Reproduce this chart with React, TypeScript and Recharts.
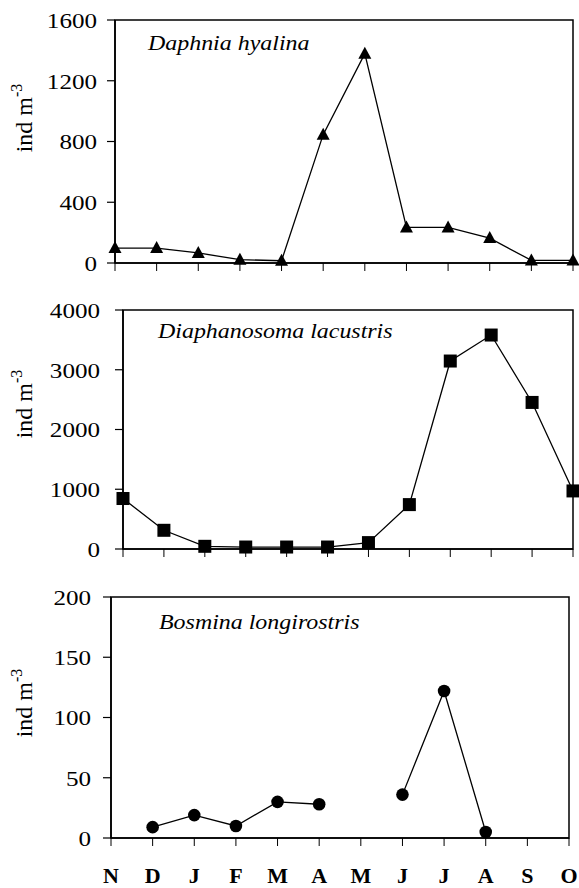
import React from 'react';
import { LineChart, Line, XAxis, YAxis, ReferenceArea } from 'recharts';

// months Nov -> Oct
const months = ['N', 'D', 'J', 'F', 'M', 'A', 'M', 'J', 'J', 'A', 'S', 'O'];

const daphnia = [98, 98, 66, 22, 15, 845, 1378, 234, 234, 164, 17, 17];
const diaphanosoma = [845, 313, 45, 33, 33, 33, 107, 743, 3146, 3581, 2453, 972];
const bosmina = [null, 9, 19, 10, 30, 28, null, 36, 122, 5, null, null];

const daphniaTicks = [0, 400, 800, 1200, 1600];
const diaphTicks = [0, 1000, 2000, 3000, 4000];
const bosminaTicks = [0, 50, 100, 150, 200];

const serif = '"Liberation Serif", "Times New Roman", serif';
const xIdx = months.map((_, i) => i);

const Triangle = (p: any) => {
  if (p.cy == null || p.value == null) return <g key={p.index} />;
  const { cx, cy } = p;
  return <polygon key={p.index} points={`${cx},${cy - 7} ${cx - 6.5},${cy + 5} ${cx + 6.5},${cy + 5}`} fill="#000" />;
};

const Square = (p: any) => {
  if (p.cy == null || p.value == null) return <g key={p.index} />;
  return <rect key={p.index} x={p.cx - 6.5} y={p.cy - 6.5} width={13} height={13} fill="#000" />;
};

const Circle = (p: any) => {
  if (p.cy == null || p.value == null) return <g key={p.index} />;
  return <circle key={p.index} cx={p.cx} cy={p.cy} r={6.3} fill="#000" />;
};

// the source figure has slightly wide glyphs, so stretch text a little
const YTick = ({ x, y, payload }: any) => (
  <text
    transform={`translate(${x},${y}) scale(1.14,1)`}
    dy="0.36em"
    textAnchor="end"
    fontFamily={serif}
    fontSize={22}
    fill="#000"
  >
    {payload.value}
  </text>
);

const XTick = ({ x, y, payload, show }: any) =>
  show ? (
    <text x={x} y={y} dy="0.71em" textAnchor="middle" fontFamily={serif} fontWeight="bold" fontSize={22} fill="#000">
      {months[payload.value]}
    </text>
  ) : (
    <g />
  );

const Title = ({ viewBox, text, dx, dy }: any) => (
  <text
    transform={`translate(${viewBox.x + dx},${viewBox.y + dy}) scale(1.14,1)`}
    fontFamily={serif}
    fontStyle="italic"
    fontSize={21}
    fill="#000"
  >
    {text}
  </text>
);

const YLab = ({ cx, cy }: any) => (
  <text transform={`translate(${cx},${cy}) rotate(-90)`} textAnchor="middle" fontFamily={serif} fontSize={24} fill="#000">
    <tspan>ind m</tspan>
    <tspan dy={-10} fontSize={16}>-3</tspan>
  </text>
);

type PanelProps = {
  values: (number | null)[];
  dot: any;
  yTicks: number[];
  top: number;
  height: number;
  margin: { top: number; right: number; bottom: number; left: number };
  yWidth: number;
  yTickMargin: number;
  xHeight: number;
  showX: boolean;
  title: string;
  titleDx: number;
  titleDy: number;
  labelY: number;
};

const Panel = (props: PanelProps) => {
  const data = months.map((m, i) => ({ i, m, v: props.values[i] }));
  const yMax = props.yTicks[props.yTicks.length - 1];
  return (
    <div style={{ position: 'absolute', left: 0, top: props.top }}>
      <LineChart width={579} height={props.height} data={data} margin={props.margin}>
        <XAxis
          dataKey="i"
          type="number"
          domain={[0, 11]}
          ticks={xIdx}
          interval={0}
          height={props.xHeight}
          tickSize={8}
          tickMargin={21}
          axisLine={{ stroke: '#000', strokeWidth: 1.6 }}
          tickLine={{ stroke: '#000', strokeWidth: 1 }}
          tick={<XTick show={props.showX} />}
        />
        <YAxis
          type="number"
          domain={[0, yMax]}
          ticks={props.yTicks}
          interval={0}
          width={props.yWidth}
          tickSize={8}
          tickMargin={props.yTickMargin}
          axisLine={{ stroke: '#000', strokeWidth: 1.6 }}
          tickLine={{ stroke: '#000', strokeWidth: 1.2 }}
          tick={<YTick />}
          label={<YLab cx={32} cy={props.labelY} />}
        />
        <ReferenceArea
          x1={0}
          x2={11}
          y1={0}
          y2={yMax}
          fill="none"
          stroke="#000"
          strokeWidth={1.5}
          label={<Title text={props.title} dx={props.titleDx} dy={props.titleDy} />}
        />
        <Line
          type="linear"
          dataKey="v"
          stroke="#000"
          strokeWidth={1.3}
          dot={props.dot}
          activeDot={false}
          isAnimationActive={false}
        />
      </LineChart>
    </div>
  );
};

export default function App() {
  return (
    <div style={{ position: 'absolute', left: 0, top: 0, width: 579, height: 888, background: '#fff' }}>
      <Panel
        values={daphnia}
        dot={Triangle}
        yTicks={daphniaTicks}
        top={0}
        height={290}
        margin={{ top: 20, right: 6, bottom: 17, left: 0 }}
        yWidth={115}
        yTickMargin={10}
        xHeight={10}
        showX={false}
        title="Daphnia hyalina"
        titleDx={33}
        titleDy={30}
        labelY={118}
      />
      <Panel
        values={diaphanosoma}
        dot={Square}
        yTicks={diaphTicks}
        top={290}
        height={290}
        margin={{ top: 20, right: 6, bottom: 21, left: 0 }}
        yWidth={123}
        yTickMargin={15}
        xHeight={10}
        showX={false}
        title="Diaphanosoma lacustris"
        titleDx={35}
        titleDy={28}
        labelY={114}
      />
      <Panel
        values={bosmina}
        dot={Circle}
        yTicks={bosminaTicks}
        top={580}
        height={308}
        margin={{ top: 17, right: 10, bottom: 5, left: 0 }}
        yWidth={111}
        yTickMargin={12}
        xHeight={45}
        showX={true}
        title="Bosmina longirostris"
        titleDx={48}
        titleDy={32}
        labelY={123}
      />
    </div>
  );
}
